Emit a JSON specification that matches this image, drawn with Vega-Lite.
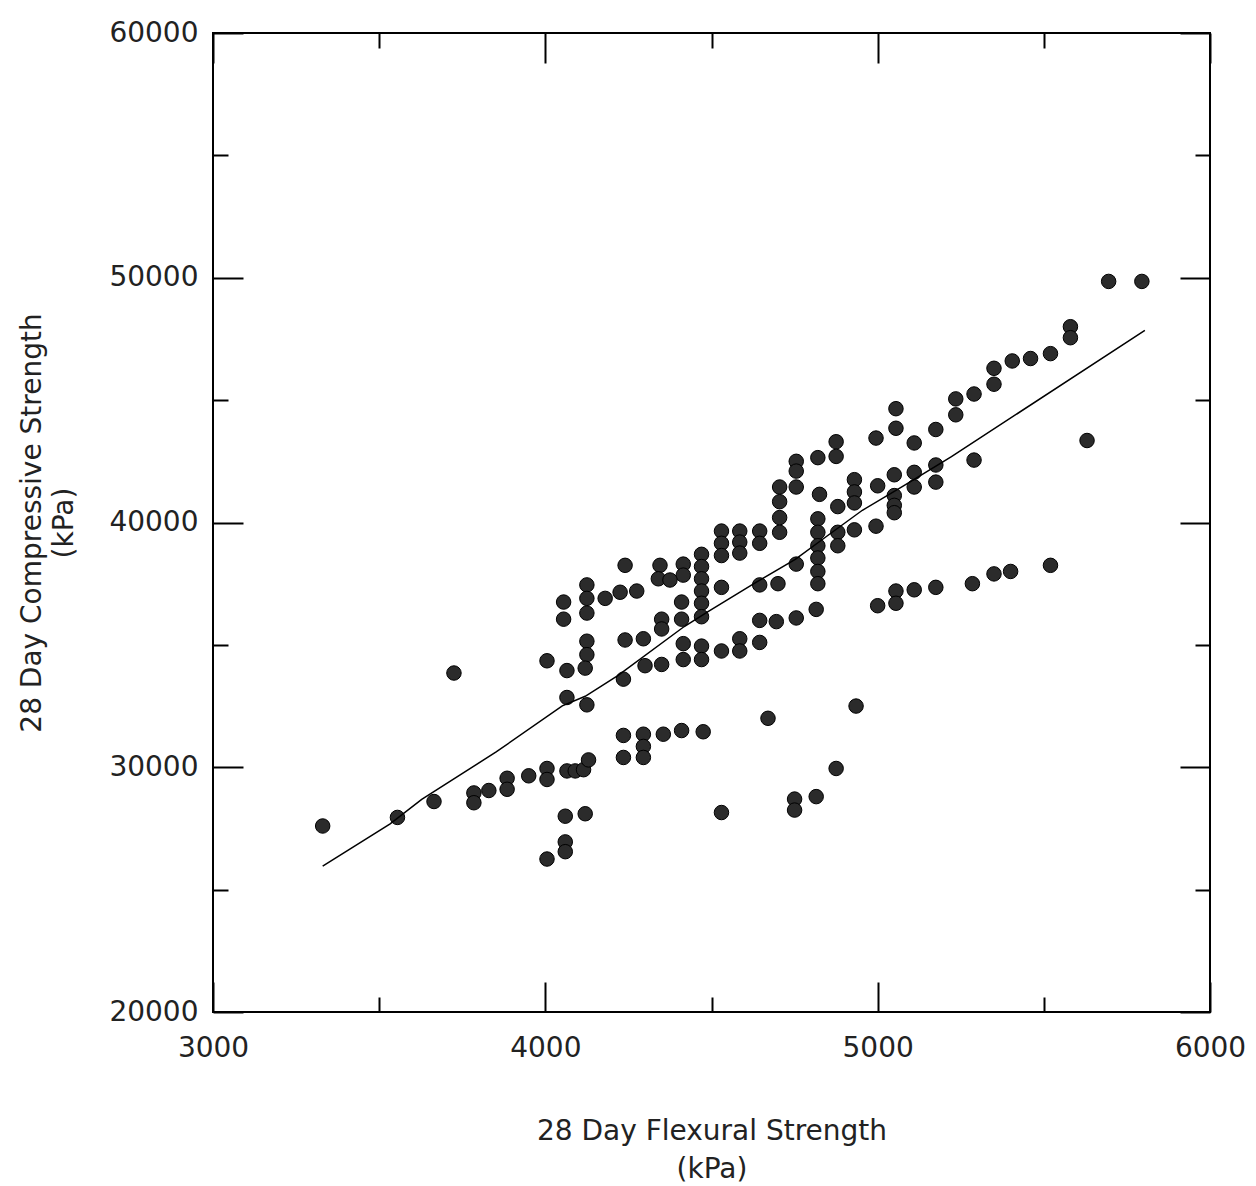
{
  "$schema": "https://vega.github.io/schema/vega-lite/v6.json",
  "width": 997,
  "height": 979,
  "autosize": {"type": "none"},
  "padding": {"left": 213, "top": 33, "right": 46, "bottom": 174},
  "background": "white",
  "config": {
    "view": {"stroke": "black", "strokeWidth": 2},
    "axis": {
      "labelFont": "DejaVu Sans",
      "labelFontSize": 28,
      "labelColor": "#222",
      "titleFont": "DejaVu Sans",
      "titleFontSize": 28,
      "titleFontWeight": "normal",
      "titleColor": "#222",
      "tickColor": "black",
      "tickWidth": 2,
      "domain": false,
      "grid": false,
      "labelFlush": false,
      "labelOverlap": false
    }
  },
  "datasets": {
    "pts": [
      {"x": 3330, "y": 27600}, {"x": 3555, "y": 27950}, {"x": 3665, "y": 28600}, {"x": 3725, "y": 33850},
      {"x": 3785, "y": 28950}, {"x": 3785, "y": 28550}, {"x": 3830, "y": 29050},
      {"x": 3885, "y": 29550}, {"x": 3885, "y": 29100}, {"x": 3950, "y": 29650},
      {"x": 4005, "y": 29950}, {"x": 4005, "y": 29500},
      {"x": 4065, "y": 29850}, {"x": 4090, "y": 29850}, {"x": 4115, "y": 29900}, {"x": 4130, "y": 30300},
      {"x": 4005, "y": 26250}, {"x": 4060, "y": 26950}, {"x": 4060, "y": 26550}, {"x": 4060, "y": 28000}, {"x": 4120, "y": 28100},
      {"x": 4005, "y": 34350}, {"x": 4065, "y": 33950},
      {"x": 4125, "y": 35150}, {"x": 4125, "y": 34600}, {"x": 4120, "y": 34050},
      {"x": 4065, "y": 32850}, {"x": 4125, "y": 32550}, {"x": 4235, "y": 33600},
      {"x": 4240, "y": 35200}, {"x": 4295, "y": 35250}, {"x": 4300, "y": 34150}, {"x": 4350, "y": 34200},
      {"x": 4055, "y": 36750}, {"x": 4055, "y": 36050},
      {"x": 4125, "y": 37450}, {"x": 4125, "y": 36900}, {"x": 4125, "y": 36300},
      {"x": 4180, "y": 36900}, {"x": 4225, "y": 37150}, {"x": 4275, "y": 37200},
      {"x": 4240, "y": 38250}, {"x": 4345, "y": 38250}, {"x": 4415, "y": 38300}, {"x": 4415, "y": 37850},
      {"x": 4340, "y": 37700}, {"x": 4375, "y": 37650}, {"x": 4410, "y": 36750},
      {"x": 4350, "y": 36050}, {"x": 4350, "y": 35650}, {"x": 4410, "y": 36050},
      {"x": 4470, "y": 38700}, {"x": 4470, "y": 38200}, {"x": 4470, "y": 37700}, {"x": 4470, "y": 37200}, {"x": 4470, "y": 36700}, {"x": 4470, "y": 36150},
      {"x": 4530, "y": 39650}, {"x": 4530, "y": 39150}, {"x": 4530, "y": 38650}, {"x": 4530, "y": 37350},
      {"x": 4585, "y": 39650}, {"x": 4585, "y": 39200}, {"x": 4585, "y": 38750},
      {"x": 4645, "y": 39650}, {"x": 4645, "y": 39150}, {"x": 4645, "y": 37450}, {"x": 4700, "y": 37500},
      {"x": 4705, "y": 41450}, {"x": 4705, "y": 40850}, {"x": 4705, "y": 40200}, {"x": 4705, "y": 39600},
      {"x": 4755, "y": 42500}, {"x": 4755, "y": 42100}, {"x": 4755, "y": 41450},
      {"x": 4820, "y": 42650}, {"x": 4875, "y": 43300}, {"x": 4875, "y": 42700},
      {"x": 4825, "y": 41150}, {"x": 4755, "y": 38300},
      {"x": 4820, "y": 40150}, {"x": 4820, "y": 39600}, {"x": 4820, "y": 39050}, {"x": 4820, "y": 38550}, {"x": 4820, "y": 38000}, {"x": 4820, "y": 37500},
      {"x": 4880, "y": 40650}, {"x": 4880, "y": 39600}, {"x": 4880, "y": 39050},
      {"x": 4930, "y": 41750}, {"x": 4930, "y": 41250}, {"x": 4930, "y": 40800}, {"x": 4930, "y": 39700},
      {"x": 4995, "y": 39850}, {"x": 5000, "y": 41500}, {"x": 4995, "y": 43450},
      {"x": 5055, "y": 44650}, {"x": 5055, "y": 43850}, {"x": 5110, "y": 43250}, {"x": 5175, "y": 43800},
      {"x": 5235, "y": 45050}, {"x": 5235, "y": 44400}, {"x": 5290, "y": 45250},
      {"x": 5350, "y": 46300}, {"x": 5350, "y": 45650}, {"x": 5405, "y": 46600}, {"x": 5460, "y": 46700},
      {"x": 5520, "y": 46900}, {"x": 5580, "y": 48000}, {"x": 5580, "y": 47550},
      {"x": 5695, "y": 49850}, {"x": 5795, "y": 49850}, {"x": 5630, "y": 43350}, {"x": 5290, "y": 42550},
      {"x": 5050, "y": 41950}, {"x": 5110, "y": 42050}, {"x": 5110, "y": 41450},
      {"x": 5175, "y": 42350}, {"x": 5175, "y": 41650},
      {"x": 5050, "y": 41100}, {"x": 5050, "y": 40700}, {"x": 5050, "y": 40400},
      {"x": 5000, "y": 36600}, {"x": 5055, "y": 37200}, {"x": 5055, "y": 36700},
      {"x": 5110, "y": 37250}, {"x": 5175, "y": 37350}, {"x": 5285, "y": 37500},
      {"x": 5350, "y": 37900}, {"x": 5400, "y": 38000}, {"x": 5520, "y": 38250},
      {"x": 4645, "y": 36000}, {"x": 4645, "y": 35100}, {"x": 4695, "y": 35950},
      {"x": 4755, "y": 36100}, {"x": 4815, "y": 36450},
      {"x": 4585, "y": 35250}, {"x": 4585, "y": 34750}, {"x": 4530, "y": 34750},
      {"x": 4470, "y": 34950}, {"x": 4470, "y": 34400}, {"x": 4415, "y": 35050}, {"x": 4415, "y": 34400},
      {"x": 4235, "y": 31300}, {"x": 4235, "y": 30400},
      {"x": 4295, "y": 31350}, {"x": 4295, "y": 30850}, {"x": 4295, "y": 30400},
      {"x": 4355, "y": 31350}, {"x": 4410, "y": 31500}, {"x": 4475, "y": 31450},
      {"x": 4530, "y": 28150}, {"x": 4670, "y": 32000}, {"x": 4935, "y": 32500},
      {"x": 4875, "y": 29950}, {"x": 4750, "y": 28700}, {"x": 4750, "y": 28250}, {"x": 4815, "y": 28800}
    ],
    "fit": [
      {"x": 3330, "y": 25960}, {"x": 3533, "y": 27690}, {"x": 3628, "y": 28690}, {"x": 3852, "y": 30625},
      {"x": 4051, "y": 32510}, {"x": 4120, "y": 32900}, {"x": 4218, "y": 33740}, {"x": 4418, "y": 35750},
      {"x": 4492, "y": 36380}, {"x": 4635, "y": 37560}, {"x": 4752, "y": 38490}, {"x": 4856, "y": 39530},
      {"x": 4954, "y": 40500}, {"x": 5079, "y": 41510}, {"x": 5222, "y": 42690}, {"x": 5804, "y": 47850}
    ]
  },
  "layer": [
    {
      "data": {"name": "pts"},
      "mark": {"type": "point", "shape": "circle", "filled": true, "size": 210, "fill": "#2b2b2b", "stroke": "#000", "strokeWidth": 1, "opacity": 1},
      "encoding": {
        "x": {
          "field": "x", "type": "quantitative",
          "scale": {"domain": [3000, 6000], "nice": false, "zero": false},
          "axis": {
            "orient": "bottom",
            "values": [3000, 3500, 4000, 4500, 5000, 5500, 6000],
            "format": "d",
            "labelExpr": "datum.value % 1000 === 0 ? datum.label : ''",
            "tickSize": {"condition": {"test": "datum.value % 1000 === 0", "value": -30}, "value": -15},
            "labelPadding": 52,
            "title": ["28 Day Flexural Strength", "(kPa)"],
            "titleLineHeight": 38,
            "titlePadding": 40
          }
        },
        "y": {
          "field": "y", "type": "quantitative",
          "scale": {"domain": [20000, 60000], "nice": false, "zero": false},
          "axis": {
            "orient": "left",
            "values": [20000, 25000, 30000, 35000, 40000, 45000, 50000, 55000, 60000],
            "format": "d",
            "labelExpr": "datum.value % 10000 === 0 ? datum.label : ''",
            "tickSize": {"condition": {"test": "datum.value % 10000 === 0", "value": -30}, "value": -15},
            "labelPadding": 45,
            "title": ["28 Day Compressive Strength", "(kPa)"],
            "titleLineHeight": 32,
            "titlePadding": 30
          }
        }
      }
    },
    {
      "data": {"name": "fit"},
      "mark": {"type": "line", "color": "black", "strokeWidth": 1.5},
      "encoding": {
        "x": {
          "field": "x", "type": "quantitative",
          "scale": {"domain": [3000, 6000], "nice": false, "zero": false},
          "axis": {
            "orient": "top",
            "values": [3000, 3500, 4000, 4500, 5000, 5500, 6000],
            "labels": false,
            "tickSize": {"condition": {"test": "datum.value % 1000 === 0", "value": -30}, "value": -15},
            "title": null
          }
        },
        "y": {
          "field": "y", "type": "quantitative",
          "scale": {"domain": [20000, 60000], "nice": false, "zero": false},
          "axis": {
            "orient": "right",
            "values": [20000, 25000, 30000, 35000, 40000, 45000, 50000, 55000, 60000],
            "labels": false,
            "tickSize": {"condition": {"test": "datum.value % 10000 === 0", "value": -30}, "value": -15},
            "title": null
          }
        }
      }
    }
  ],
  "resolve": {"axis": {"x": "independent", "y": "independent"}}
}
